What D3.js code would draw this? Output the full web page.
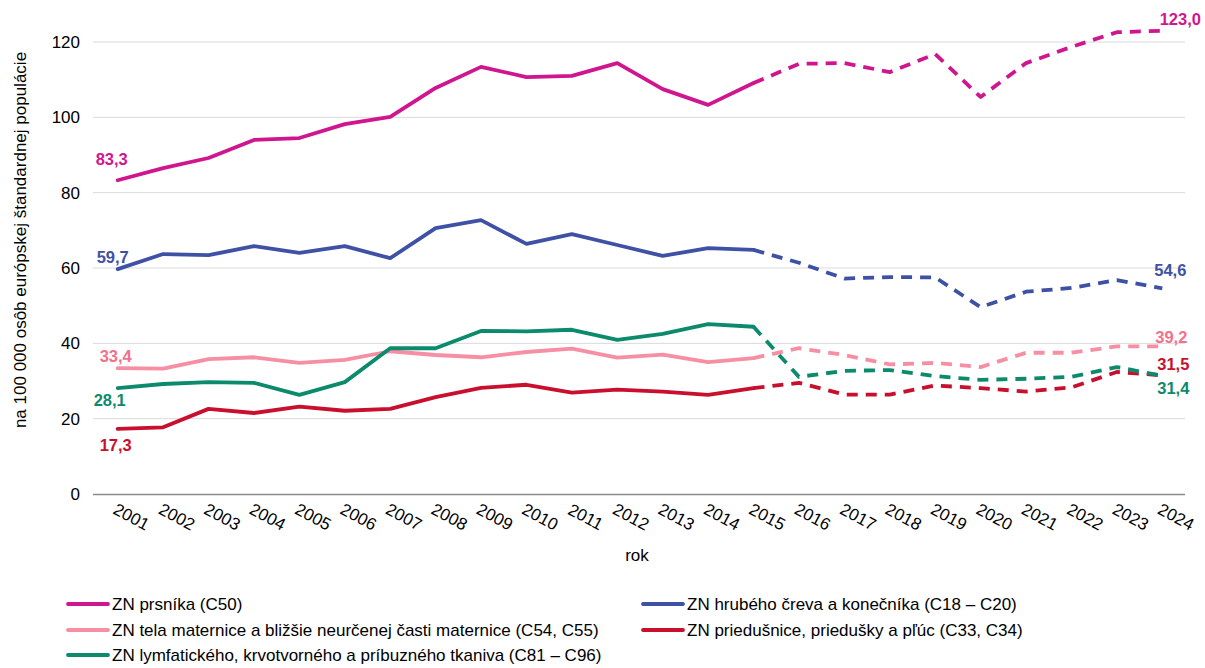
<!DOCTYPE html>
<html><head><meta charset="utf-8">
<script src="https://cdn.jsdelivr.net/npm/d3@7"></script>
<style>
body{margin:0;background:#fff;font-family:"Liberation Sans",Arial,sans-serif;}
</style></head>
<body><svg id="c" width="1205" height="668"></svg>
<script>
const years = ["2001","2002","2003","2004","2005","2006","2007","2008","2009","2010","2011","2012","2013","2014","2015","2016","2017","2018","2019","2020","2021","2022","2023","2024"];
const yTicks = [0,20,40,60,80,100,120];
const breast = [83.3,86.5,89.2,94.0,94.5,98.2,100.1,107.8,113.4,110.7,111.0,114.4,107.5,103.3,109.1,114.2,114.4,112.0,116.8,105.4,114.4,118.7,122.6,123.0];
const colon = [59.7,63.7,63.4,65.8,64.0,65.8,62.6,70.6,72.7,66.4,69.0,66.1,63.2,65.3,64.8,61.4,57.2,57.6,57.5,49.6,53.7,54.7,56.8,54.6];
const uterus = [33.4,33.3,35.8,36.3,34.8,35.6,37.9,36.9,36.3,37.7,38.6,36.2,37.0,35.0,36.1,38.7,36.9,34.4,34.8,33.7,37.5,37.5,39.2,39.2];
const lymph = [28.1,29.2,29.7,29.5,26.3,29.7,38.7,38.7,43.3,43.2,43.6,40.9,42.5,45.1,44.4,31.1,32.7,32.9,31.3,30.3,30.6,31.1,33.7,31.4];
const lung = [17.3,17.7,22.6,21.5,23.2,22.1,22.6,25.7,28.2,29.0,26.9,27.7,27.2,26.3,28.1,29.5,26.4,26.4,28.8,28.1,27.2,28.3,32.4,31.5];
const seriesNames = ["ZN prsníka (C50)","ZN hrubého čreva a konečníka (C18 – C20)","ZN tela maternice a bližšie neurčenej časti maternice (C54, C55)","ZN priedušnice, priedušky a pľúc (C33, C34)","ZN lymfatického, krvotvorného a príbuzného tkaniva (C81 – C96)"];
const seriesValues = [breast, colon, uterus, lung, lymph];
const colors = ["#d0168f","#3f51a5","#f68fa3","#c8102e","#0c8a6c"];
const labelColors = ["#d0168f","#3f51a5","#f2718b","#c8102e","#0c8a6c"];
const splitIndex = 14; // 2015: measured -> projected

const svg = d3.select("#c");
const x = d3.scaleBand().domain(years).range([95,1185]);
const y = d3.scaleLinear().domain([0,120]).range([494,42]);
const cx = d => x(d) + x.bandwidth()/2;
const FF = "Liberation Sans, Arial, sans-serif";

// gridlines
svg.append("g").selectAll("line").data(yTicks.filter(t=>t>0)).join("line")
  .attr("x1",93).attr("x2",1185).attr("y1",d=>y(d)).attr("y2",d=>y(d))
  .attr("stroke","#d9d9d9").attr("stroke-width",1);

// y axis labels
const yAxis = d3.axisLeft(y).tickValues(yTicks).tickSize(0).tickPadding(0).tickFormat(d3.format("d"));
const ya = svg.append("g").attr("transform","translate(80,0)").call(yAxis);
ya.select(".domain").remove();
ya.selectAll("text").attr("font-size",17).attr("fill","#000").attr("font-family",FF);

// x axis
const xAxis = d3.axisBottom(x).tickSize(0).tickFormat(d=>d);
const xa = svg.append("g").attr("transform","translate(0,494)").call(xAxis);
xa.select(".domain").attr("stroke","#8c8c8c").attr("stroke-width",1.3).attr("d","M93,0.5H1185");
xa.selectAll("text").attr("font-size",17).attr("fill","#000").attr("font-family",FF)
  .attr("text-anchor","middle").attr("dy",null).attr("y",0)
  .attr("transform","translate(11,28) rotate(28)");

svg.append("text").attr("x",637).attr("y",561).attr("text-anchor","middle")
  .attr("font-size",17).attr("font-family",FF).text("rok");
svg.append("text").attr("transform","translate(26,240) rotate(-90)").attr("text-anchor","middle")
  .attr("font-size",17).attr("font-family",FF).text("na 100 000 osôb európskej štandardnej populácie");

// lines
const line = d3.line().x(d=>cx(d[0])).y(d=>y(d[1]));
seriesValues.forEach((vals,i)=>{
  const pts = years.map((yr,j)=>[yr,vals[j]]);
  svg.append("path").attr("d",line(pts.slice(0,splitIndex+1)))
    .attr("fill","none").attr("stroke",colors[i]).attr("stroke-width",3.8)
    .attr("stroke-linejoin","round").attr("stroke-linecap","round");
  svg.append("path").attr("d",line(pts.slice(splitIndex)))
    .attr("fill","none").attr("stroke",colors[i]).attr("stroke-width",3.8)
    .attr("stroke-dasharray","11,8").attr("stroke-linejoin","round");
});

// data labels
const fmt = v => v.toFixed(1).replace(".",",");
const firstOffMap = {0:[-6,-21],1:[-5,-12],2:[-2,-12],3:[-2,16],4:[-8,12]};
const lastOffMap = {0:[18,-12],1:[8,-18],2:[9,-9],3:[11,-11],4:[11,12]};
seriesValues.forEach((vals,i)=>{
  const f = firstOffMap[i], l = lastOffMap[i];
  svg.append("text").attr("x",cx(years[0])+f[0]).attr("y",y(vals[0])+f[1])
    .attr("text-anchor","middle").attr("dominant-baseline","central").attr("font-family",FF)
    .attr("font-size",16.5).attr("font-weight","bold").attr("fill",labelColors[i]).text(fmt(vals[0]));
  const n = vals.length-1;
  svg.append("text").attr("x",cx(years[n])+l[0]).attr("y",y(vals[n])+l[1])
    .attr("text-anchor","middle").attr("dominant-baseline","central").attr("font-family",FF)
    .attr("font-size",16.5).attr("font-weight","bold").attr("fill",labelColors[i]).text(fmt(vals[n]));
});

// legend
const legendPos = [[68,604],[643,604],[68,630],[643,630],[68,655]];
seriesNames.forEach((name,i)=>{
  const [lx,ly] = legendPos[i];
  svg.append("line").attr("x1",lx).attr("x2",lx+40).attr("y1",ly).attr("y2",ly)
    .attr("stroke",colors[i]).attr("stroke-width",3.8).attr("stroke-linecap","round");
  svg.append("text").attr("x",lx+44).attr("y",ly).attr("dominant-baseline","central")
    .attr("font-size",17).attr("font-family",FF).attr("fill","#000").text(name);
});
</script></body></html>
